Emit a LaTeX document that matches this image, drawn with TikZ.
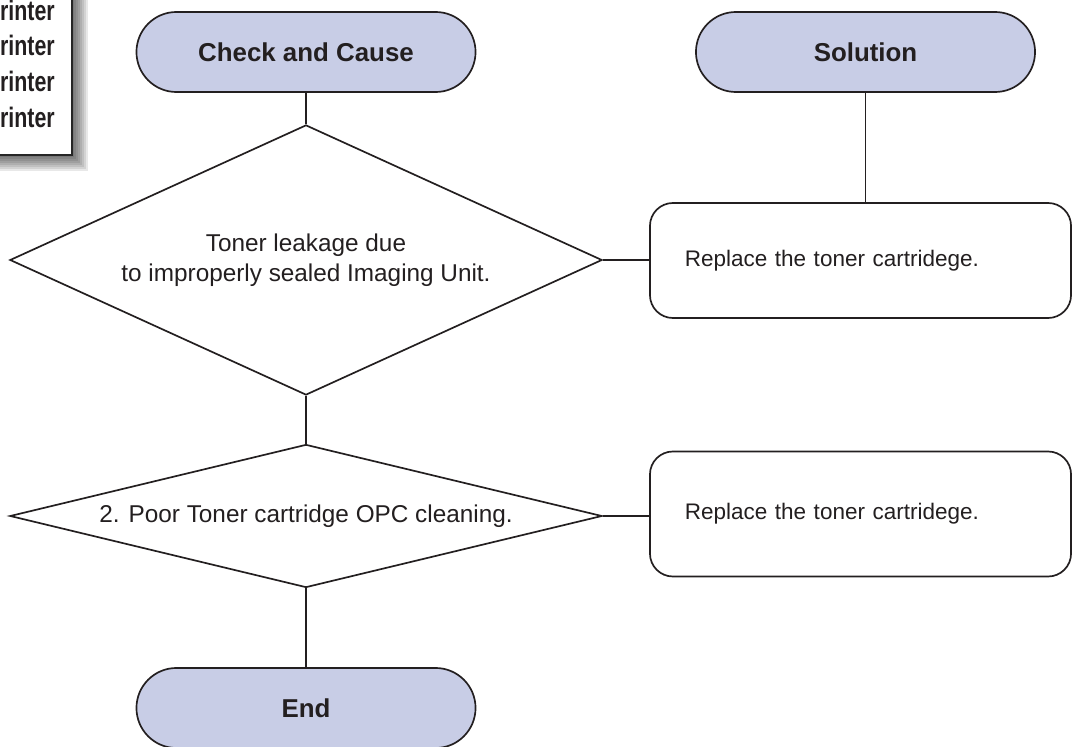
\documentclass[tikz,border=0pt]{standalone}
\usepackage{fontspec}
\setmainfont{Liberation Sans}
\usetikzlibrary{shapes.geometric}
\definecolor{termfill}{RGB}{200,205,230}
\definecolor{ink}{RGB}{35,31,32}
\begin{document}
\begin{tikzpicture}[
  x=0.025cm, y=-0.025cm,
  term/.style={draw=ink, fill=termfill, line width=1.2pt, rounded corners=1cm, minimum width=8.475cm, minimum height=2cm, inner sep=0pt, font=\fontsize{18.4}{22}\selectfont\bfseries},
  cond/.style={draw=ink, fill=white, line width=1.2pt, diamond, inner sep=0pt, minimum width=14.8cm, align=center, font=\fontsize{17.3}{21}\selectfont},
  fix/.style={draw=ink, fill=white, line width=1.2pt, rounded corners=0.575cm, minimum width=10.525cm, text width=8.775cm, inner xsep=0.875cm, align=left, font=\fontsize{16}{19}\selectfont},
  link/.style={draw=ink, line width=1.2pt},
  tag/.style={anchor=east, text=ink, inner sep=0pt, transform shape, xscale=0.76, font=\fontsize{20}{22}\selectfont\bfseries}
]
\clip (0,0) rectangle (1072,747);
% cropped picture in the corner
\foreach \i in {0,...,7}
  \fill[black, opacity=0.09] (-10,-10) rectangle (88-2*\i,171-2*\i);
\draw[fill=white, draw=black!85, line width=1pt] (-10,-10) rectangle (72,155);
\foreach \r/\yy in {a/10,b/45,c/81,d/117}
  \node[tag] (prn\r) at (55,\yy) {rinter};

\node[term, text=ink] (check) at (306,52) {Check and Cause};
\node[term, text=ink] (sol) at (865.5,52) {Solution};

\node[cond, text=ink, minimum height=6.75cm, aspect=2.2] (dia1) at (306,260) {Toner leakage due\\to improperly sealed Imaging Unit.};
\node[cond, text=ink, minimum height=3.575cm, aspect=4.1] (dia2) at (306,516) {2. Poor Toner cartridge OPC cleaning.};

\node[fix, text=ink, minimum height=2.875cm] (fix1) at (860.5,260.5) {Replace the toner cartridege.};
\node[fix, text=ink, minimum height=3.125cm] (fix2) at (860.5,514) {Replace the toner cartridege.};

\node[term, text=ink] (end) at (306,708) {End};

\draw[link] (check) -- (dia1);
\draw[link] (sol) -- (sol |- fix1.north);
\draw[link] (dia1.east) -- (dia1.east -| fix1.west);
\draw[link] (dia1) -- (dia2);
\draw[link] (dia2.east) -- (dia2.east -| fix2.west);
\draw[link] (dia2) -- (end);
\end{tikzpicture}
\end{document}
